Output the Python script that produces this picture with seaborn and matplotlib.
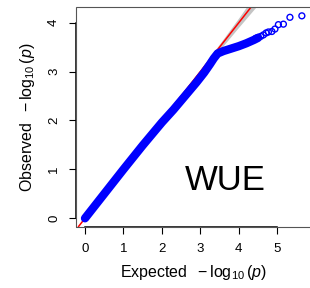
import numpy as np
import pandas as pd
import matplotlib
matplotlib.use("Agg")
import matplotlib.pyplot as plt
from matplotlib.patches import Rectangle
import seaborn as sns

# dense part of the QQ curve (expected vs observed -log10 p)
band_expected = [0.0, 0.5, 1.0, 1.5, 2.0, 2.3, 2.6, 2.9, 3.1, 3.25, 3.35, 3.45,
                 3.6, 3.8, 4.0, 4.2, 4.4, 4.5]
band_observed = [0.0, 0.5, 1.0, 1.49, 1.96, 2.22, 2.5, 2.78, 2.98, 3.15, 3.27, 3.37,
                 3.42, 3.47, 3.52, 3.58, 3.65, 3.69]

# sparse tail, single points
tail_expected = [4.44, 4.50, 4.57, 4.64, 4.71, 4.77, 4.86, 4.94, 5.03, 5.16, 5.33, 5.64]
tail_observed = [3.68, 3.70, 3.72, 3.75, 3.79, 3.81, 3.82, 3.87, 3.96, 3.97, 4.11, 4.14]

# grey confidence band around y = x
ci_expected = [2.0, 2.5, 3.0, 3.5, 4.0, 4.5, 5.0]
ci_lower = [1.985, 2.475, 2.96, 3.44, 3.91, 4.37, 4.80]
ci_upper = [2.015, 2.53, 3.045, 3.565, 4.10, 4.66, 5.25]

x_ticks = [0, 1, 2, 3, 4, 5]
y_ticks = [0, 1, 2, 3, 4]
trait = "WUE"

sns.set_style("white")
plt.rcParams["font.family"] = ["Liberation Sans", "DejaVu Sans"]
plt.rcParams["mathtext.fontset"] = "custom"
plt.rcParams["mathtext.rm"] = "Liberation Sans"
plt.rcParams["mathtext.it"] = "Liberation Sans:italic"
for key in ["text.color", "axes.labelcolor", "xtick.color", "ytick.color"]:
    plt.rcParams[key] = "black"

fig = plt.figure(figsize=(3.1, 2.88), dpi=100)
ax = fig.add_axes([76 / 310, 1 - 226.7 / 288, 235.5 / 310, 219.7 / 288])

ax.fill_between(ci_expected, ci_lower, ci_upper, color="#c4c4c4", lw=0, zorder=1)
ax.axline((0, 0), slope=1, color="red", lw=1.1, zorder=2)

band = pd.DataFrame({"expected": band_expected, "observed": band_observed})
tail = pd.DataFrame({"expected": tail_expected, "observed": tail_observed})
sns.lineplot(data=band, x="expected", y="observed", ax=ax, color="blue",
             lw=6, solid_capstyle="round", solid_joinstyle="round", zorder=3)
sns.scatterplot(data=tail, x="expected", y="observed", ax=ax, marker="o",
                facecolor="none", edgecolor="blue", linewidth=1.0, s=18, zorder=4)

ax.set_xlim(-0.234, -0.234 + 235.5 / 38.45)
ax.set_ylim(-0.172, -0.172 + 219.7 / 48.9)
ax.set_xticks(x_ticks)
ax.set_yticks(y_ticks)
ax.set_xticklabels([str(t) for t in x_ticks], fontsize=9.5)
ax.set_yticklabels([str(t) for t in y_ticks], fontsize=9.5, rotation=90, va="center")
ax.tick_params(direction="out", length=5, width=0.8, color="black", pad=6.5,
               bottom=True, left=True)

# R style: thin box, darker axis lines between first and last tick
for side in ["top", "right"]:
    ax.spines[side].set_visible(False)
ax.spines["bottom"].set_bounds(x_ticks[0], x_ticks[-1])
ax.spines["left"].set_bounds(y_ticks[0], y_ticks[-1])
ax.spines["bottom"].set_color("black")
ax.spines["left"].set_color("black")
ax.spines["bottom"].set_linewidth(1.1)
ax.spines["left"].set_linewidth(1.1)
ax.add_patch(Rectangle((0, 0), 1, 1, transform=ax.transAxes, fill=False,
                       ec="#555555", lw=0.8, clip_on=False, zorder=5))

ax.set_xlabel(r"Expected $\;-\log_{10}(p)$", fontsize=11.5, labelpad=6)
ax.set_ylabel(r"Observed $\;-\log_{10}(p)$", fontsize=11.5, labelpad=8)
ax.text(3.66, 0.77, trait, fontsize=25, ha="center", va="center")

fig.savefig("out.png", dpi=100)
